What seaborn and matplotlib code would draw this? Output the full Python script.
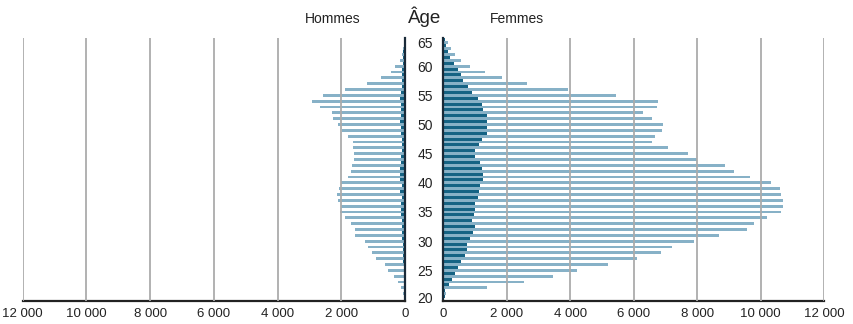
import pandas as pd
import matplotlib.pyplot as plt
import matplotlib.transforms as mtransforms
import seaborn as sns

# Données (âges de 64 en haut à 20 en bas)
ages = list(range(64, 19, -1))

hommes_clair = [20, 50, 90, 160, 310, 440, 750, 1190, 1900, 2590,
                2930, 2680, 2280, 2250, 2090, 1990, 1780, 1620, 1620, 1590,
                1590, 1650, 1690, 1780, 2000, 2060, 2150, 2120, 2000, 2030,
                1900, 1690, 1560, 1560, 1250, 1150, 1030, 900, 620, 530,
                340, 220, 120, 60, 0]
hommes_fonce = [20, 30, 50, 60, 80, 90, 90, 100, 100, 120,
                150, 130, 120, 130, 150, 130, 120, 100, 100, 110,
                120, 120, 150, 150, 150, 100, 150, 100, 120, 120,
                120, 90, 90, 90, 90, 60, 60, 60, 60, 40,
                30, 30, 20, 20, 20]
femmes_clair = [150, 240, 370, 560, 840, 1310, 1850, 2640, 3930, 5440,
                6760, 6730, 6290, 6570, 6920, 6890, 6670, 6570, 7080, 7710,
                8000, 8870, 9160, 9660, 10320, 10610, 10640, 10700, 10700, 10640,
                10200, 9790, 9570, 8680, 7900, 7200, 6860, 6100, 5190, 4210,
                3460, 2540, 1380, 100, 0]
femmes_fonce = [40, 100, 150, 210, 340, 460, 560, 620, 780, 900,
                1090, 1220, 1250, 1380, 1380, 1380, 1380, 1220, 1120, 1000,
                1000, 1150, 1220, 1250, 1250, 1150, 1120, 1090, 1000, 1000,
                970, 900, 1000, 940, 840, 750, 750, 680, 560, 460,
                370, 270, 180, 40, 40]

graduations = [0, 2000, 4000, 6000, 8000, 10000, 12000]
etiquettes_x = ['0', '2 000', '4 000', '6 000', '8 000', '10 000', '12 000']
etiquettes_age = [65, 60, 55, 50, 45, 40, 35, 30, 25, 20]

couleurs = {'claire': '#7cb4d2', 'foncee': '#036a96'}


def format_long(clair, fonce):
    return pd.DataFrame({
        'age': ages * 2,
        'serie': ['foncee'] * len(ages) + ['claire'] * len(ages),
        'valeur': fonce + clair,
    })


df_hommes = format_long(hommes_clair, hommes_fonce)
df_femmes = format_long(femmes_clair, femmes_fonce)

sns.set_style('white')
plt.rcParams['font.family'] = ['DejaVu Sans Condensed', 'Liberation Sans', 'DejaVu Sans']

fig = plt.figure(figsize=(8.54, 3.24), dpi=100)
ax_h = fig.add_axes([0.0266, 0.071, 0.4477, 0.8102])
ax_f = fig.add_axes([0.5191, 0.071, 0.4458, 0.8102])

for ax, df in ((ax_h, df_hommes), (ax_f, df_femmes)):
    sns.barplot(data=df, x='valeur', y='age', hue='serie', order=ages,
                hue_order=['foncee', 'claire'], orient='h', palette=couleurs,
                width=1.0, linewidth=0, errorbar=None, legend=False, ax=ax)
    ax.set_ylim(len(ages) - 0.5, -0.5)
    ax.set_yticks([])
    ax.set_xlabel('')
    ax.set_ylabel('')
    ax.set_xticks(graduations)
    ax.set_xticklabels(etiquettes_x)
    ax.tick_params(axis='x', length=0, pad=5, labelsize=9.5, colors='#222222')
    for g in graduations[1:]:
        ax.axvline(g, color='#ababab', lw=1.3, zorder=3)
    ax.spines['top'].set_visible(False)
    ax.spines['bottom'].set_color('#222222')
    ax.spines['bottom'].set_linewidth(1.6)

ax_h.set_xlim(12000, 0)
ax_f.set_xlim(0, 12000)
ax_h.spines['left'].set_visible(False)
ax_h.spines['right'].set_color('#1a2a38')
ax_h.spines['right'].set_linewidth(1.6)
ax_f.spines['right'].set_visible(False)
ax_f.spines['left'].set_color('#1a2a38')
ax_f.spines['left'].set_linewidth(1.6)

# Étiquettes d'âge au centre
trans = mtransforms.blended_transform_factory(fig.transFigure, ax_h.transData)
for a in etiquettes_age:
    pos = min(max(64.5 - a, 0.4), 44.2)
    fig.text(425 / 854, pos, str(a), transform=trans, ha='center', va='center',
             fontsize=10, color='#222222')

fig.text(333 / 854, 1 - 19 / 324, 'Hommes', ha='center', va='center',
         fontsize=10, color='#222222')
fig.text(425 / 854, 1 - 17 / 324, 'Âge', ha='center', va='center',
         fontsize=13.5, color='#222222')
fig.text(517 / 854, 1 - 19 / 324, 'Femmes', ha='center', va='center',
         fontsize=10, color='#222222')

fig.savefig('out.png', dpi=100)
